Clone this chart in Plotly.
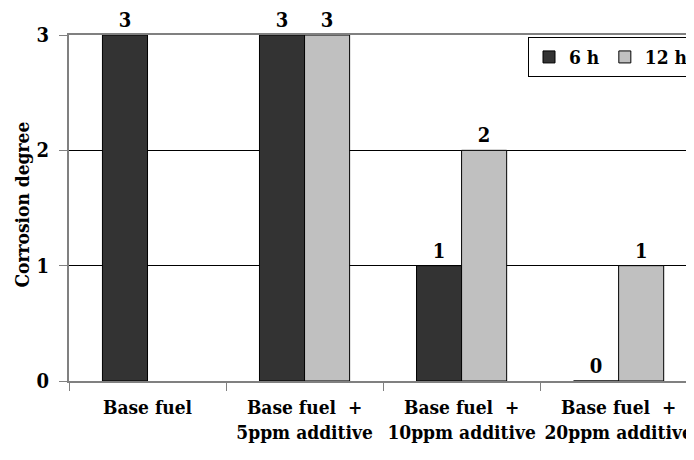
import plotly.graph_objects as go

categories = ["Base fuel", "Base fuel  +<br>5ppm additive", "Base fuel  +<br>10ppm additive", "Base fuel  +<br>20ppm additive"]
series_names = ["6 h", "12 h"]
values_6h = [3, 3, 1, 0]
values_12h = [None, 3, 2, 1]
colors = ["#333333", "#C0C0C0"]
y_ticks = [0, 1, 2, 3]
y_title = "Corrosion degree"

FONT = "'DejaVu Serif Condensed', 'DejaVu Serif'"

def f(size):
    return dict(family=FONT, size=size, color="black", weight="bold")

fig = go.Figure()
for name, vals, col in zip(series_names, [values_6h, values_12h], colors):
    fig.add_trace(go.Bar(
        name=name, x=categories, y=vals,
        marker=dict(color=col, line=dict(color="#000000", width=1)),
        text=[("" if v is None else str(v)) for v in vals],
        textposition="outside",
        textfont=f(20),
        cliponaxis=False,
    ))

fig.update_layout(
    width=686, height=452,
    margin=dict(l=61, r=0, t=27, b=79, autoexpand=False),
    paper_bgcolor="white", plot_bgcolor="white",
    barmode="group", bargap=0.426, bargroupgap=0,
    font=f(19),
    showlegend=True,
    legend=dict(
        orientation="h", x=1.0, y=0.994, xanchor="right", yanchor="top",
        bordercolor="black", borderwidth=1, bgcolor="white",
        font=f(19), itemwidth=30, tracegroupgap=0,
    ),
    xaxis=dict(
        range=[-0.5, 3.48], showgrid=False, automargin=False,
        showline=True, linecolor="#808080", linewidth=2, mirror=True,
        ticks="outside", tickson="boundaries", ticklen=8, tickcolor="#808080", tickwidth=1,
        tickangle=0, ticklabelstandoff=8,
        tickfont=f(19),
    ),
    yaxis=dict(
        range=[0, 3], tickvals=y_ticks, showgrid=True, gridcolor="black", gridwidth=1,
        zeroline=False, automargin=False,
        showline=True, linecolor="#808080", linewidth=2,
        ticks="outside", ticklen=8, tickcolor="#808080", tickwidth=1,
        ticklabelstandoff=6,
        tickfont=f(20),
    ),
    annotations=[dict(
        text=y_title, xref="paper", yref="paper", x=-0.0752, y=0.51,
        xanchor="center", yanchor="middle", textangle=-90, showarrow=False,
        font=f(19),
    )],
)

fig.write_html("out.html")
